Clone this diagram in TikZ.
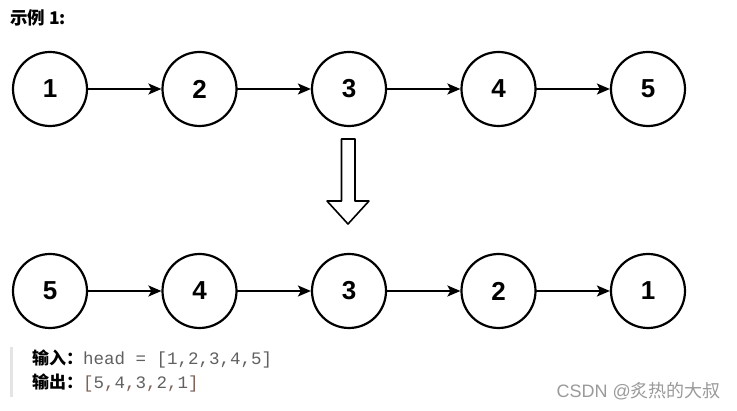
\documentclass[tikz,border=0pt]{standalone}
\usepackage{fontspec}
\setmainfont{Liberation Sans}
\setmonofont{Liberation Mono}
\newfontfamily\cjk{Noto Sans CJK SC}
\usetikzlibrary{arrows.meta,positioning}

\definecolor{codegray}{HTML}{606060}
\definecolor{codebrown}{HTML}{7D6358}
\definecolor{bargray}{HTML}{E4E4E4}
\definecolor{markgray}{HTML}{9A9A9A}

\tikzset{
	listnode/.style={draw, circle, line width=2.2pt, minimum size=74pt, inner sep=0pt,
		font=\fontsize{26}{30}\selectfont\bfseries},
	link/.style={line width=1.8pt, -{Stealth[length=13pt, width=11pt, inset=3pt]}},
}

\begin{document}
\begin{tikzpicture}[x=1pt, y=-1pt, line cap=round, line join=round]
		
		\useasboundingbox (0,0) rectangle (737,411);
		
		% title
		\node[anchor=west, inner sep=0pt] (title) at (10,18)
		{\cjk\bfseries\fontsize{17.5}{20}\selectfont 示例 1:};
		
		% spacing of the nodes
		\def\gap{149.5}
		
		% top list: 1 -> 2 -> 3 -> 4 -> 5
		\foreach \v [count=\i] in {1,2,3,4,5}
		\node[listnode] (n\i) at ({50+(\i-1)*\gap},89) {\v};
		\foreach \i [evaluate=\i as \j using int(\i+1)] in {1,...,4}
		\draw[link] (n\i) -- (n\j);
		
		% bottom list: 5 -> 4 -> 3 -> 2 -> 1
		\foreach \v [count=\i] in {5,4,3,2,1}
		\node[listnode] (m\i) at ({50+(\i-1)*\gap},291) {\v};
		\foreach \i [evaluate=\i as \j using int(\i+1)] in {1,...,4}
		\draw[link] (m\i) -- (m\j);
		
		% hollow arrow between the two lists
		\draw[line width=1.6pt]
		(341.5,139) -- (355,139) -- (355,201) -- (369,201) -- (348,224)
		-- (327,201) -- (341.5,201) -- cycle;
		
		% input / output block
		\fill[bargray] (10,347) rectangle (13,397);
		\node[anchor=west, inner sep=0pt] (input) at (32,359)
		{{\cjk\bfseries\fontsize{17}{19}\selectfont 输入：}%
			{\ttfamily\fontsize{17.5}{19}\selectfont\color{codegray}head = [1,2,3,4,5]}};
		\node[anchor=west, inner sep=0pt] (output) at (32,383)
		{{\cjk\bfseries\fontsize{17}{19}\selectfont 输出：}%
			{\ttfamily\fontsize{17.5}{19}\selectfont\color{codebrown}[\textcolor{codegray}{5},\textcolor{codegray}{4},\textcolor{codegray}{3},\textcolor{codegray}{2},\textcolor{codegray}{1}]}};
		
		% watermark
		\node[anchor=east, inner sep=0pt, text=markgray] (mark) at (721,391)
		{\fontsize{18}{20}\selectfont CSDN @{\cjk 炙热的大叔}};
		
	\end{tikzpicture}
\end{document}
